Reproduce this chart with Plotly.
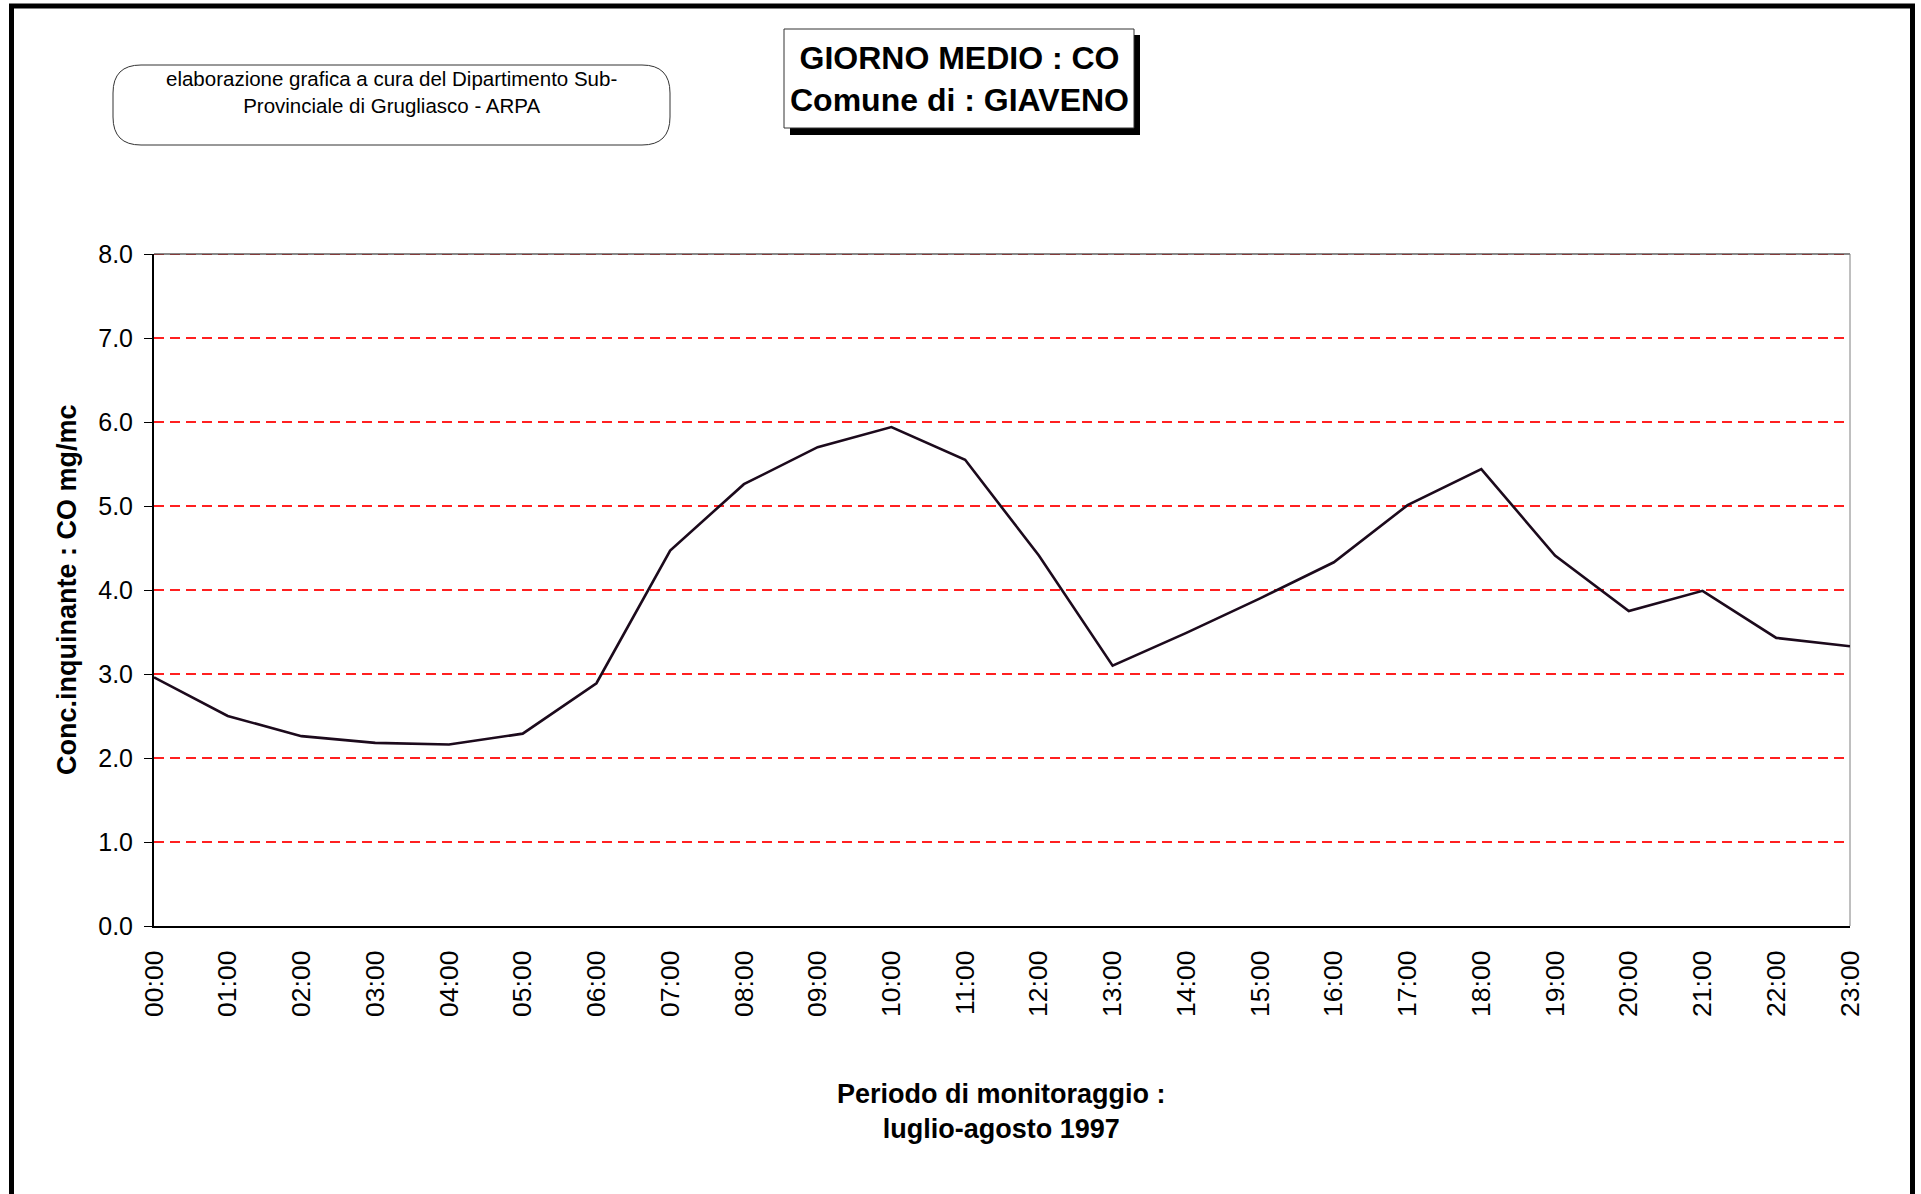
import plotly.graph_objects as go

# Hourly average CO concentration (mg/mc), Giaveno, July-August 1997
hours = ["00:00", "01:00", "02:00", "03:00", "04:00", "05:00", "06:00", "07:00",
         "08:00", "09:00", "10:00", "11:00", "12:00", "13:00", "14:00", "15:00",
         "16:00", "17:00", "18:00", "19:00", "20:00", "21:00", "22:00", "23:00"]
co_values = [2.96, 2.50, 2.26, 2.18, 2.16, 2.29, 2.89, 4.47,
             5.26, 5.70, 5.94, 5.55, 4.41, 3.10, 3.49, 3.90,
             4.33, 5.01, 5.44, 4.41, 3.75, 3.99, 3.43, 3.33]
y_ticks = [0, 1, 2, 3, 4, 5, 6, 7, 8]

title_lines = ["GIORNO MEDIO : CO", "Comune di : GIAVENO"]
note_lines = ["elaborazione grafica a cura del Dipartimento Sub-",
              "Provinciale di Grugliasco - ARPA"]
y_title = "Conc.inquinante : CO mg/mc"
x_title_lines = ["Periodo di monitoraggio :", "luglio-agosto 1997"]

W, H = 1921, 1194
PL, PR, PT, PB = 154, 1850, 254, 926  # plot area in pixels
FONT = "Arial, Liberation Sans, sans-serif"
GRID_RED = "#ff2020"
GRID_DASH = "10px,6px"


def px(x):
    return (x - PL) / (PR - PL)


def py(y):
    return (PB - y) / (PB - PT)


fig = go.Figure()
fig.add_trace(go.Scatter(
    x=hours, y=co_values, mode="lines",
    line=dict(color="#1c0a1c", width=2.6),
    hoverinfo="x+y", showlegend=False,
))

shapes = []
# outer frame
shapes.append(dict(type="rect", xref="paper", yref="paper",
                   x0=px(11.5), x1=px(1912.5), y0=py(1240), y1=py(6),
                   line=dict(color="black", width=5), fillcolor="rgba(0,0,0,0)",
                   layer="above"))
# plot area top/right edges, with the dashed line at the top value
shapes.append(dict(type="line", xref="paper", yref="paper", x0=0, x1=1, y0=1, y1=1,
                   line=dict(color="#606060", width=1.5), layer="below"))
shapes.append(dict(type="line", xref="paper", yref="y", x0=0, x1=1,
                   y0=y_ticks[-1], y1=y_ticks[-1],
                   line=dict(color="#802020", width=1.5, dash=GRID_DASH), layer="below"))
shapes.append(dict(type="line", xref="paper", yref="paper", x0=1, x1=1, y0=0, y1=1,
                   line=dict(color="#808080", width=1), layer="below"))

# title box with drop shadow
shapes.append(dict(type="rect", xref="paper", yref="paper",
                   x0=px(790), x1=px(1140), y0=py(135), y1=py(35),
                   line=dict(width=0), fillcolor="black", layer="above"))
shapes.append(dict(type="rect", xref="paper", yref="paper",
                   x0=px(784), x1=px(1134), y0=py(128), y1=py(29),
                   line=dict(color="#333333", width=1), fillcolor="white", layer="above"))

# rounded note box
bx0, bx1, by0, by1, r = 113, 670, 65, 145, 28
path = (f"M {px(bx0 + r)},{py(by0)} L {px(bx1 - r)},{py(by0)} "
        f"Q {px(bx1)},{py(by0)} {px(bx1)},{py(by0 + r)} "
        f"L {px(bx1)},{py(by1 - r)} "
        f"Q {px(bx1)},{py(by1)} {px(bx1 - r)},{py(by1)} "
        f"L {px(bx0 + r)},{py(by1)} "
        f"Q {px(bx0)},{py(by1)} {px(bx0)},{py(by1 - r)} "
        f"L {px(bx0)},{py(by0 + r)} "
        f"Q {px(bx0)},{py(by0)} {px(bx0 + r)},{py(by0)} Z")
shapes.append(dict(type="path", xref="paper", yref="paper", path=path,
                   line=dict(color="#333333", width=1), fillcolor="white", layer="above"))

annotations = [
    dict(text="<br>".join(title_lines), xref="paper", yref="paper",
         x=px(959), y=py(79), xanchor="center", yanchor="middle", showarrow=False,
         font=dict(family=FONT, size=32, color="black", weight="bold")),
    dict(text="<br>".join(note_lines), xref="paper", yref="paper",
         x=px(391), y=py(92), xanchor="center", yanchor="middle", showarrow=False,
         font=dict(family=FONT, size=20.5, color="black")),
    dict(text=y_title, xref="paper", yref="paper", textangle=-90,
         x=px(67), y=py(590), xanchor="center", yanchor="middle", showarrow=False,
         font=dict(family=FONT, size=27, color="black", weight="bold")),
    dict(text="<br>".join(x_title_lines), xref="paper", yref="paper",
         x=px(1001), y=py(1111), xanchor="center", yanchor="middle", showarrow=False,
         font=dict(family=FONT, size=27, color="black", weight="bold")),
]

fig.update_layout(
    width=W, height=H, autosize=False,
    margin=dict(l=PL, r=W - PR, t=PT, b=H - PB, pad=0),
    paper_bgcolor="white", plot_bgcolor="white",
    font=dict(family=FONT, color="black"),
    shapes=shapes, annotations=annotations,
    xaxis=dict(
        type="category", range=[0, len(hours) - 1],
        showgrid=False, zeroline=False,
        showline=True, linecolor="black", linewidth=2,
        ticks="", tickangle=-90, ticklabelstandoff=12,
        tickfont=dict(family=FONT, size=26.5, color="black"),
    ),
    yaxis=dict(
        range=[0, 8], tickvals=y_ticks, tickformat=".1f",
        showgrid=True, gridcolor=GRID_RED, gridwidth=1.5, griddash=GRID_DASH,
        zeroline=False,
        showline=True, linecolor="black", linewidth=2,
        ticks="outside", ticklen=8, tickcolor="black", tickwidth=1,
        ticklabelstandoff=6,
        tickfont=dict(family=FONT, size=25, color="black"),
    ),
)

fig.write_html("out.html")
